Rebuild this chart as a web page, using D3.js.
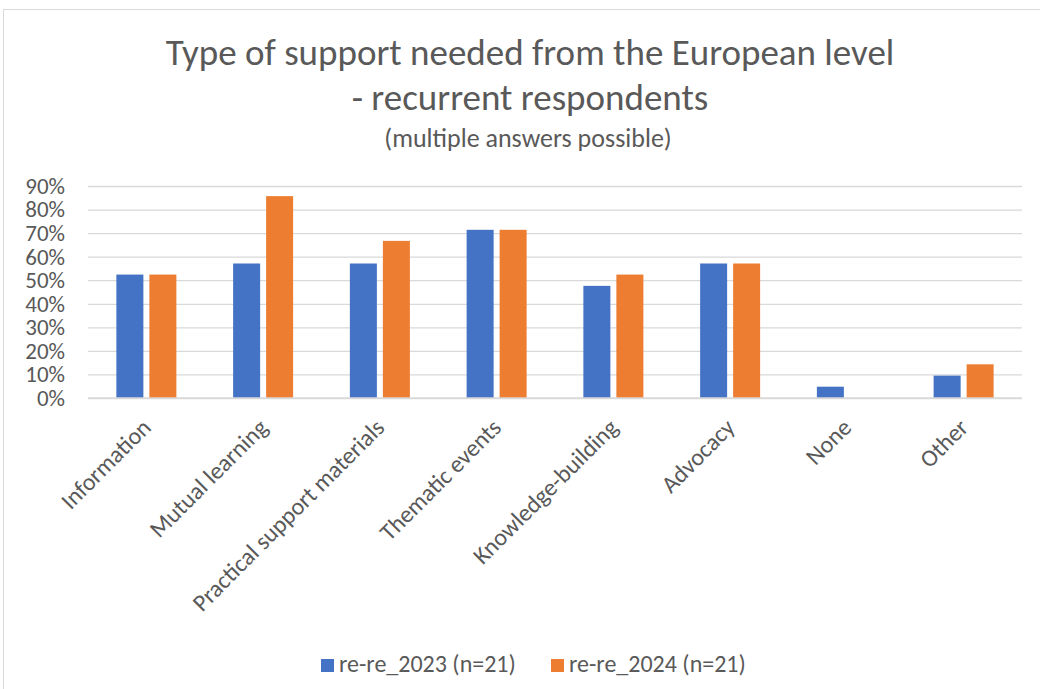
<!DOCTYPE html>
<html>
<head>
<meta charset="utf-8">
<script src="https://cdn.jsdelivr.net/npm/d3@7"></script>
<style>
  html, body { margin: 0; padding: 0; background: #fff; }
  svg { display: block; font-family: Carlito, "Open Sans", sans-serif; }
</style>
</head>
<body>
<svg id="chart" width="1040" height="689"></svg>
<script>
// Share of respondents (n=21 each year) asking for each kind of support
const categories = ["Information", "Mutual learning", "Practical support materials", "Thematic events",
  "Knowledge-building", "Advocacy", "None", "Other"];
const series = ["re-re_2023 (n=21)", "re-re_2024 (n=21)"];
const values2023 = [0.524, 0.571, 0.571, 0.714, 0.476, 0.571, 0.048, 0.095];
const values2024 = [0.524, 0.857, 0.667, 0.714, 0.524, 0.571, 0, 0.143];
const yTicks = [0, 0.1, 0.2, 0.3, 0.4, 0.5, 0.6, 0.7, 0.8, 0.9];
const colors = ["#4472C4", "#ED7D31"];

const svg = d3.select("#chart");
const textColor = "#595959";
const fontFamily = 'Carlito, "Open Sans", sans-serif';

// outer chart frame
svg.append("rect").attr("x", 3.5).attr("y", 9.5).attr("width", 1045).attr("height", 690)
  .attr("fill", "none").attr("stroke", "#d9d9d9");

const plot = { left: 88, right: 1022, top: 186, bottom: 398 };

const x = d3.scaleBand().domain(categories).range([plot.left, plot.right]);
const y = d3.scaleLinear().domain([0, 0.9]).range([plot.bottom, plot.top]);

// title block
const title = svg.append("g").attr("fill", textColor).attr("text-anchor", "middle");
title.append("text").attr("x", 530).attr("y", 65).attr("font-size", 37)
  .text("Type of support needed from the European level");
title.append("text").attr("x", 530).attr("y", 110).attr("font-size", 37)
  .text("- recurrent respondents");
title.append("text").attr("x", 528).attr("y", 147).attr("font-size", 26)
  .text("(multiple answers possible)");

// horizontal gridlines + y labels
const yAxis = d3.axisLeft(y).tickValues(yTicks).tickFormat(d3.format(".0%"))
  .tickSize(-(plot.right - plot.left)).tickPadding(23);
const gy = svg.append("g").attr("transform", `translate(${plot.left},0)`).call(yAxis);
gy.select(".domain").remove();
gy.selectAll(".tick line").attr("stroke", "#d9d9d9").attr("stroke-width", 1.3);
gy.selectAll(".tick text").attr("fill", textColor).attr("font-size", 23)
  .attr("font-family", fontFamily);

// bars: two series side by side, centred in each category band
const half = 30;
const inner = d3.scaleBand().domain(series)
  .range([x.bandwidth() / 2 - half, x.bandwidth() / 2 + half]).paddingInner(2 - 60 / 33);
const data = categories.map((c, i) => ({ cat: c, vals: [values2023[i], values2024[i]] }));
const groups = svg.append("g").selectAll("g").data(data).join("g")
  .attr("transform", d => `translate(${x(d.cat)},0)`);
groups.selectAll("rect").data(d => d.vals.map((v, j) => ({ v, s: series[j], j })))
  .join("rect")
  .attr("x", d => inner(d.s))
  .attr("width", inner.bandwidth())
  .attr("y", d => y(d.v))
  .attr("height", d => y(0) - y(d.v))
  .attr("fill", d => colors[d.j]);

// baseline
svg.append("line").attr("x1", plot.left).attr("x2", plot.right)
  .attr("y1", y(0)).attr("y2", y(0)).attr("stroke", "#d9d9d9").attr("stroke-width", 1.5);

// rotated category labels
const xAxis = d3.axisBottom(x).tickSize(0).tickPadding(0);
const gx = svg.append("g").attr("transform", `translate(0,${plot.bottom})`).call(xAxis);
gx.select(".domain").remove();
gx.selectAll(".tick text")
  .attr("fill", textColor).attr("font-size", 24)
  .attr("font-family", fontFamily)
  .attr("text-anchor", "end")
  .attr("dy", "0")
  .attr("transform", "translate(6,31) rotate(-45)");

// legend
const legend = svg.append("g").attr("font-size", 24).attr("fill", textColor);
const legendX = [321, 551];
series.forEach((s, i) => {
  legend.append("rect").attr("x", legendX[i]).attr("y", 659).attr("width", 13).attr("height", 13)
    .attr("fill", colors[i]);
  legend.append("text").attr("x", legendX[i] + 18).attr("y", 672).text(s);
});
</script>
</body>
</html>
